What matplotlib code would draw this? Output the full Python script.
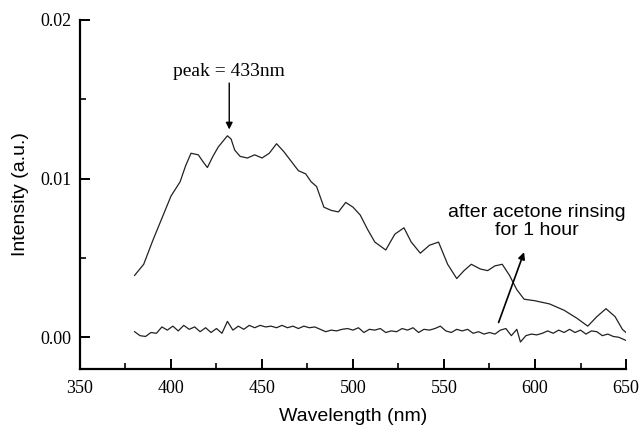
import matplotlib
matplotlib.use("Agg")
import matplotlib.pyplot as plt
from matplotlib.ticker import MultipleLocator

# spectrum before rinsing
wl_before = [380, 385, 390, 395, 400, 405, 408, 411, 415, 418, 420, 423, 426, 431,
             433, 435, 438, 442, 446, 450, 454, 458, 462, 466, 470, 474, 477, 480,
             484, 488, 492, 496, 500, 504, 508, 512, 518, 523, 528, 532, 537, 542,
             547, 552, 557, 561, 565, 570, 574, 578, 582, 586, 590, 594, 600, 608,
             616, 623, 629, 634, 639, 644, 648, 650]
int_before = [0.0039, 0.0046, 0.0061, 0.0075, 0.0089, 0.0098, 0.0108, 0.0116, 0.0115,
              0.0110, 0.0107, 0.0114, 0.0120, 0.0127, 0.0125, 0.0118, 0.0114, 0.0113,
              0.0115, 0.0113, 0.0116, 0.0122, 0.0117, 0.0111, 0.0105, 0.0103, 0.0098,
              0.0095, 0.0082, 0.0080, 0.0079, 0.0085, 0.0082, 0.0077, 0.0068, 0.0060,
              0.0055, 0.0065, 0.0069, 0.0060, 0.0053, 0.0058, 0.0060, 0.0046, 0.0037,
              0.0042, 0.0046, 0.0043, 0.0042, 0.0045, 0.0046, 0.0039, 0.0030, 0.0024,
              0.0023, 0.0021, 0.0017, 0.0012, 0.0007, 0.0013, 0.0018, 0.0013, 0.0005,
              0.0003]

# spectrum after acetone rinsing
wl_after = [380, 383, 386, 389, 392, 395, 398, 401, 404, 407, 410, 413, 416, 419, 422,
            425, 428, 431, 434, 437, 440, 443, 446, 449, 452, 455, 458, 461, 464, 467,
            470, 473, 476, 479, 482, 485, 488, 491, 494, 497, 500, 503, 506, 509, 512,
            515, 518, 521, 524, 527, 530, 533, 536, 539, 542, 545, 548, 551, 554, 557,
            560, 563, 566, 569, 572, 575, 578, 581, 584, 587, 590, 592, 595, 598, 601,
            604, 607, 610, 613, 616, 619, 622, 625, 628, 631, 634, 637, 640, 643, 646,
            650]
int_after = [0.00035, 0.00010, 0.00005, 0.00030, 0.00025, 0.00065, 0.00045, 0.00070,
             0.00040, 0.00075, 0.00050, 0.00065, 0.00035, 0.00060, 0.00030, 0.00055,
             0.00025, 0.00100, 0.00045, 0.00070, 0.00050, 0.00075, 0.00060, 0.00075,
             0.00065, 0.00070, 0.00060, 0.00075, 0.00060, 0.00070, 0.00055, 0.00070,
             0.00060, 0.00065, 0.00050, 0.00035, 0.00045, 0.00040, 0.00050, 0.00055,
             0.00045, 0.00060, 0.00030, 0.00050, 0.00045, 0.00055, 0.00030, 0.00040,
             0.00035, 0.00055, 0.00045, 0.00060, 0.00030, 0.00050, 0.00045, 0.00055,
             0.00070, 0.00040, 0.00030, 0.00050, 0.00040, 0.00050, 0.00025, 0.00035,
             0.00020, 0.00030, 0.00020, 0.00045, 0.00055, 0.00010, 0.00050, -0.00030,
             0.00010, 0.00020, 0.00015, 0.00025, 0.00040, 0.00025, 0.00045, 0.00030,
             0.00050, 0.00030, 0.00045, 0.00020, 0.00040, 0.00035, 0.00010, 0.00020,
             0.00005, 0.00000, -0.00020]

serif = "Liberation Serif"
sans = "Liberation Sans"

fig = plt.figure(figsize=(6.41, 4.28), dpi=100)
ax = fig.add_axes([0.1248, 0.1379, 0.8518, 0.8154])

ax.plot(wl_before, int_before, color="#222222", lw=0.9)
ax.plot(wl_after, int_after, color="#222222", lw=0.9)

ax.set_xlim(350, 650)
ax.set_ylim(-0.002, 0.02)
ax.xaxis.set_major_locator(MultipleLocator(50))
ax.xaxis.set_minor_locator(MultipleLocator(25))
ax.yaxis.set_major_locator(MultipleLocator(0.01))
ax.yaxis.set_minor_locator(MultipleLocator(0.005))
ax.yaxis.set_major_formatter(plt.FuncFormatter(lambda v, p: f"{v:.2f}"))

for side in ["top", "right"]:
    ax.spines[side].set_visible(False)
for side in ["left", "bottom"]:
    ax.spines[side].set_linewidth(1.6)

ax.tick_params(which="major", direction="in", length=7, width=1.4, labelsize=13)
ax.tick_params(axis="x", which="major", pad=8)
ax.tick_params(axis="y", which="major", pad=6)
ax.tick_params(which="minor", direction="in", length=4, width=1.2)
for lab in ax.get_xticklabels() + ax.get_yticklabels():
    lab.set_fontfamily(serif)

ax.set_xlabel("Wavelength (nm)", fontfamily=sans, fontsize=14, labelpad=8)
ax.set_ylabel("Intensity (a.u.)", fontfamily=sans, fontsize=14, labelpad=8)

ax.annotate("peak = 433nm", xy=(432, 0.0131), xytext=(432, 0.0162),
            ha="center", va="bottom", fontfamily=serif, fontsize=14,
            arrowprops=dict(arrowstyle="-|>", color="black", lw=1.0,
                            mutation_scale=10, shrinkA=0, shrinkB=0))

ax.text(601, 0.0073, "after acetone rinsing\nfor 1 hour", ha="center", va="center",
        fontfamily=sans, fontsize=14, linespacing=1.05)
ax.annotate("", xy=(594, 0.00536), xytext=(580, 0.00093),
            arrowprops=dict(arrowstyle="-|>", color="black", lw=1.2,
                            mutation_scale=10, shrinkA=0, shrinkB=0))

fig.savefig("out.png", dpi=100)
